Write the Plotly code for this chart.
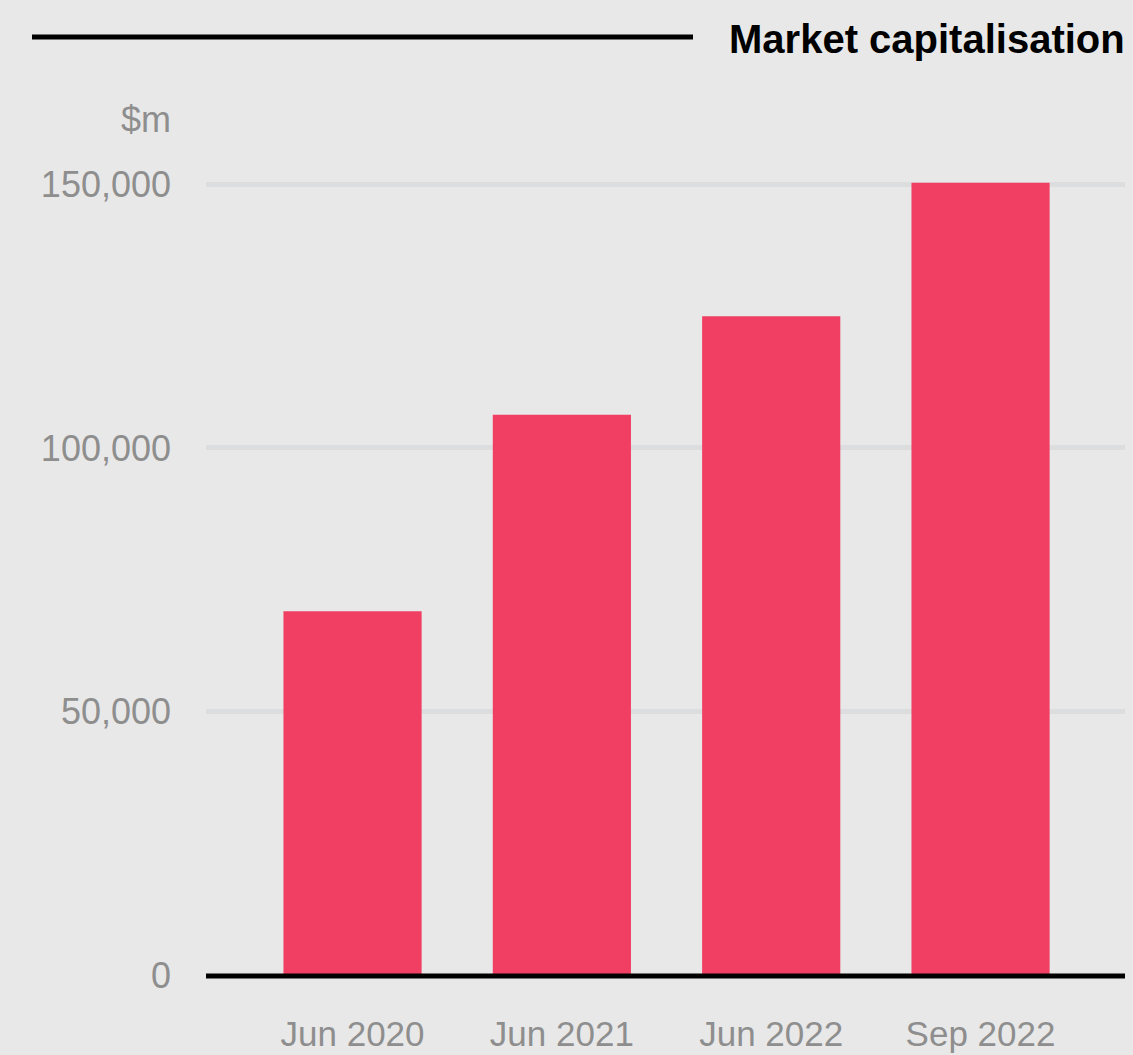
import plotly.graph_objects as go

# Market capitalisation by period, in $m
periods = ["Jun 2020", "Jun 2021", "Jun 2022", "Sep 2022"]
market_cap = [69000, 106300, 125000, 150300]

y_ticks = [0, 50000, 100000, 150000]
y_tick_labels = ["0", "50,000", "100,000", "150,000"]

BG = "#e8e8e8"
BAR = "#f03f62"
GREY = "#8e8e8e"
FONT = "Liberation Sans, Arial, Helvetica, sans-serif"

W, H = 1133, 1055
L, R, T, B = 206, 8, 158, 80

fig = go.Figure(
    go.Bar(
        x=periods,
        y=market_cap,
        marker=dict(color=BAR, line=dict(width=0)),
        hoverinfo="x+y",
    )
)

plot_w = W - L - R
plot_h = H - T - B


def px_x(px):
    return (px - L) / plot_w


def px_y(py):
    return (H - B - py) / plot_h


fig.update_layout(
    width=W,
    height=H,
    margin=dict(l=L, r=R, t=T, b=B, autoexpand=False),
    paper_bgcolor=BG,
    plot_bgcolor=BG,
    bargap=0.34,
    showlegend=False,
    font=dict(family=FONT, color=GREY, size=36),
    xaxis=dict(
        range=[-0.7, 3.69],
        showgrid=False,
        zeroline=False,
        showline=False,
        ticks="",
        tickfont=dict(size=35, color=GREY),
        ticklabelstandoff=35,
        automargin=False,
        fixedrange=True,
    ),
    yaxis=dict(
        range=[0, 155000],
        tickvals=y_ticks,
        ticktext=y_tick_labels,
        showgrid=True,
        gridcolor="#dcdddf",
        gridwidth=5,
        zeroline=False,
        showline=False,
        ticks="",
        tickfont=dict(size=36, color=GREY),
        ticklabelstandoff=34,
        automargin=False,
        fixedrange=True,
    ),
    shapes=[
        # baseline at zero, drawn over the bar bottoms
        dict(
            type="line", xref="paper", yref="paper",
            x0=0, x1=1, y0=px_y(976), y1=px_y(976),
            line=dict(color="black", width=5),
            layer="above",
        ),
        # heading rule
        dict(
            type="line", xref="paper", yref="paper",
            x0=px_x(32), x1=px_x(693), y0=px_y(37), y1=px_y(37),
            line=dict(color="black", width=5),
        ),
    ],
    annotations=[
        dict(
            text="<b>Market capitalisation</b>",
            xref="paper", yref="paper",
            x=px_x(1127), y=px_y(39),
            xanchor="right", yanchor="middle",
            showarrow=False,
            font=dict(family=FONT, size=40, color="black"),
        ),
        dict(
            text="$m",
            xref="paper", yref="paper",
            x=px_x(173), y=px_y(120),
            xanchor="right", yanchor="middle",
            showarrow=False,
            font=dict(family=FONT, size=36, color=GREY),
        ),
    ],
)

fig.write_html("out.html")
